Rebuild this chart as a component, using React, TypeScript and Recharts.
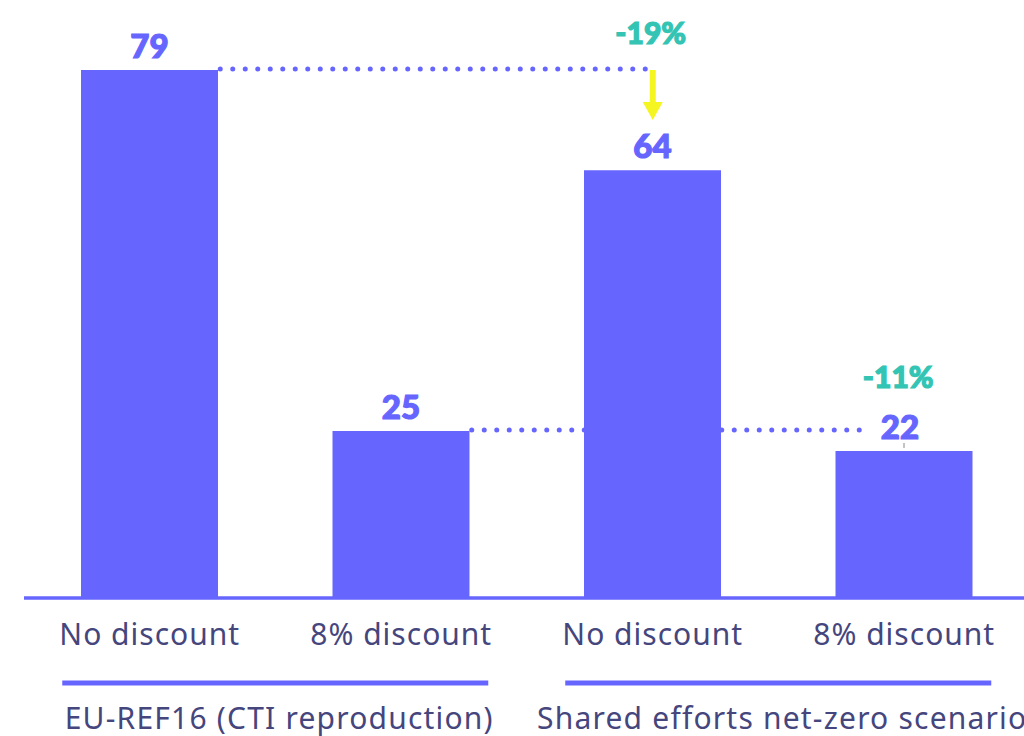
import { Bar, BarChart, LabelList, ReferenceLine, XAxis, YAxis } from "recharts";

const ids = ["eu-no", "eu-8", "se-no", "se-8"];
const categories = ["No discount", "8% discount", "No discount", "8% discount"];
const groups = ["EU-REF16 (CTI reproduction)", "EU-REF16 (CTI reproduction)", "Shared efforts net-zero scenario", "Shared efforts net-zero scenario"];
const values = [79, 25, 64, 22];
const changes = [
  { from: "eu-no", to: "se-no", value: 79, label: "-19%" },
  { from: "eu-8", to: "se-8", value: 25, label: "-11%" },
];

const data = ids.map((id, i) => ({ id, category: categories[i], group: groups[i], value: values[i] }));

const BLUE = "#6666ff";
const TEXT = "#45467d";
const TEAL = "#33c4b4";
const BAR = 137;
const numFont = "Lato, sans-serif";
const textFont = "'Noto Sans', sans-serif";

function CategoryTick({ x, y, index }: any) {
  return (
    <text x={x} y={y + 39} textAnchor="middle" fontSize={30} letterSpacing={1} fill={TEXT} fontFamily={textFont}>
      {categories[index]}
    </text>
  );
}

function GroupTick({ x, y, index }: any) {
  if (index % 2 !== 0) return null;
  const cx = x + 125.5;
  return (
    <g>
      <line x1={cx - 213} x2={cx + 213} y1={y + 7} y2={y + 7} stroke={BLUE} strokeWidth={5} />
      <text x={cx + 4} y={y + 53} textAnchor="middle" fontSize={30} letterSpacing={1.2} fill={TEXT} fontFamily={textFont}>
        {groups[index]}
      </text>
    </g>
  );
}

function ValueLabel({ x, y, width, value, index }: any) {
  const cx = x + width / 2;
  const shift = index === 3 ? -4 : 0;
  return (
    <g>
      <text x={cx + shift} y={y - 12} textAnchor="middle" fontSize={33} fontWeight={900} fill={BLUE} stroke={BLUE} strokeWidth={1.2} fontFamily={numFont}>
        {value}
      </text>
      {index === 3 && <line x1={cx} x2={cx} y1={y - 8} y2={y - 3} stroke="#888" strokeWidth={1} />}
    </g>
  );
}

function DottedShape({ x1, y1, x2, y2, label }: any) {
  const first = changes[0].label === label;
  const sx = x1 + BAR / 2 + 2;
  const ex = first ? x2 + 4 : x2 - 34;
  const ly = first ? y1 - 26 : y1 - 43;
  return (
    <g>
      <line x1={sx} x2={ex} y1={y1 - 1} y2={y2 - 1} stroke={BLUE} strokeWidth={5} strokeLinecap="round" strokeDasharray="0 12.5" />
      <text x={x2 - 2 + (first ? 0 : -4)} y={ly} textAnchor="middle" fontSize={30} fontWeight={900} fill={TEAL} stroke={TEAL} strokeWidth={1.2} fontFamily={numFont}>
        {label}
      </text>
      {first && (
        <g>
          <rect x={x2 - 3} y={y1} width={6} height={34} fill="#f5f522" />
          <polygon points={`${x2 - 10},${y1 + 32} ${x2 + 10},${y1 + 32} ${x2},${y1 + 50}`} fill="#f5f522" />
        </g>
      )}
    </g>
  );
}

export default function App() {
  return (
    <div style={{ position: "absolute", left: 0, top: 0, width: 1024, height: 736, overflow: "hidden", background: "#fff" }}>
      <BarChart width={1030} height={736} data={data} margin={{ top: 70, right: 0, bottom: 0, left: 24 }}>
        <YAxis hide domain={[0, 79]} />
        <XAxis
          dataKey="id"
          axisLine={{ stroke: BLUE, strokeWidth: 3.5 }}
          tickLine={false}
          tick={<CategoryTick />}
          height={70}
          interval={0}
        />
        <XAxis dataKey="id" xAxisId="group" axisLine={false} tickLine={false} tick={<GroupTick />} height={68} interval={0} />
        <Bar dataKey="value" fill={BLUE} barSize={BAR} isAnimationActive={false}>
          <LabelList dataKey="value" content={<ValueLabel />} />
        </Bar>
        {changes.map((c) => (
          <ReferenceLine
            key={c.label}
            segment={[{ x: c.from, y: c.value }, { x: c.to, y: c.value }]}
            ifOverflow="visible"
            shape={(p: any) => <DottedShape {...p} label={c.label} />}
          />
        ))}
      </BarChart>
    </div>
  );
}
